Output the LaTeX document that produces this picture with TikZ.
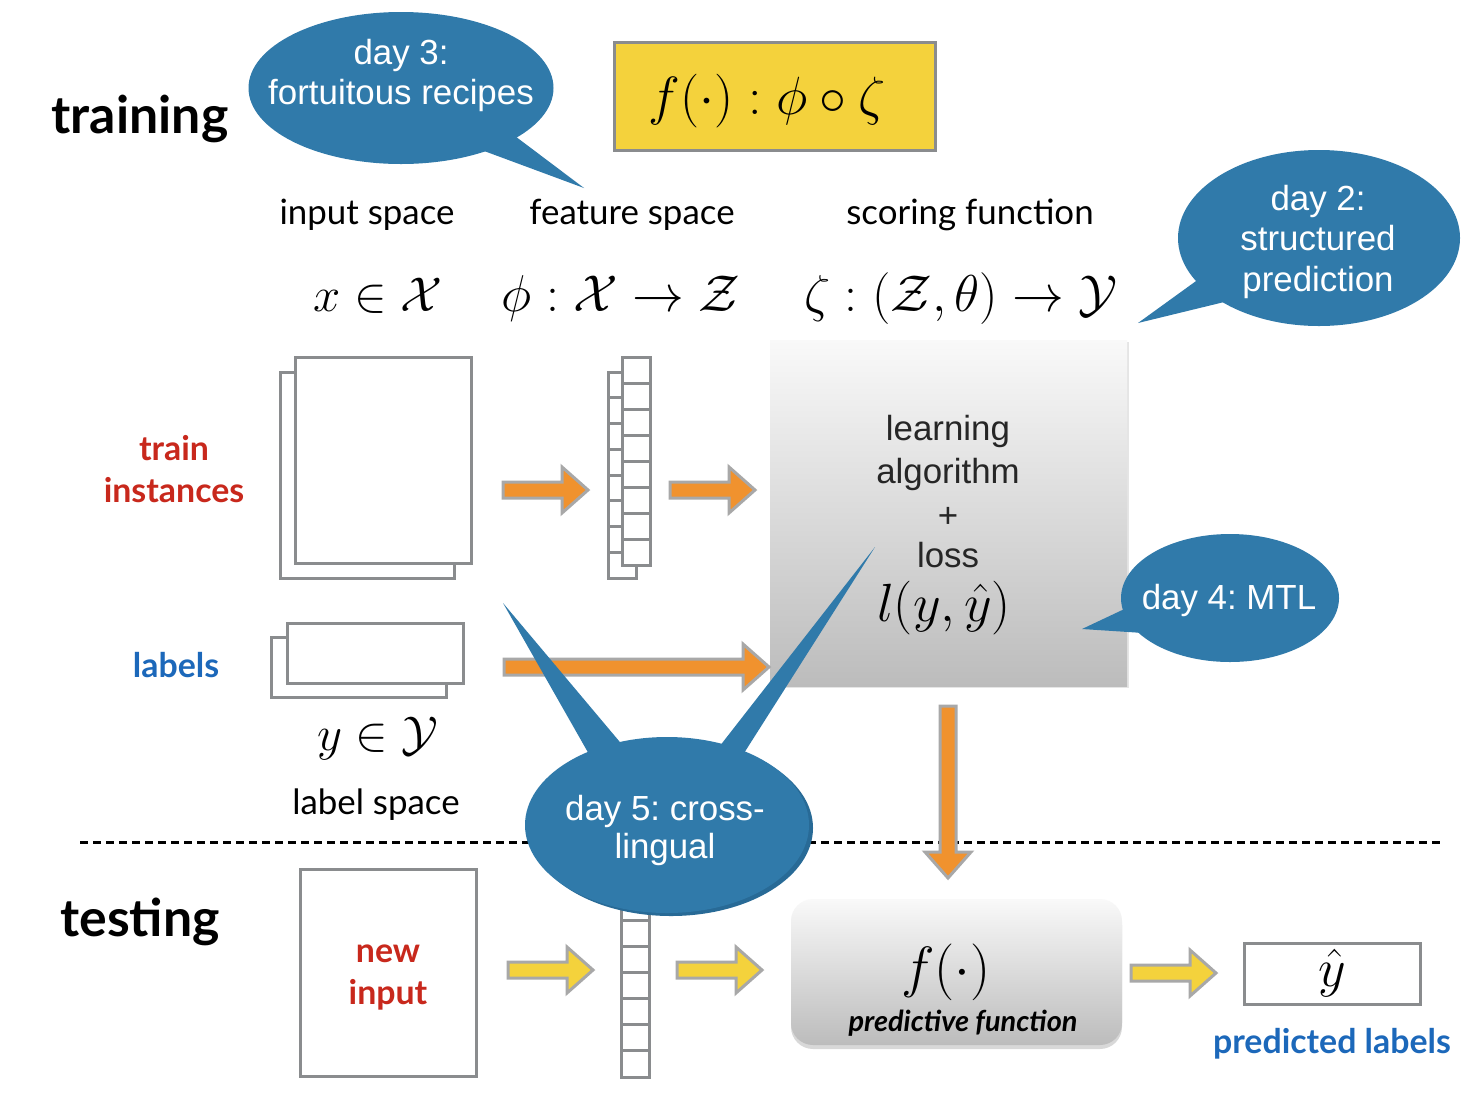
\RequirePackage{fix-cm}
\documentclass[tikz,border=0pt]{standalone}
\usepackage[no-math]{fontspec}
\setmainfont{Lato}
\newfontfamily\helv{Liberation Sans}
\usetikzlibrary{shapes.geometric,shadows,calc}
\frenchspacing

\definecolor{bub}{RGB}{48,122,170}
\definecolor{bubdark}{RGB}{40,106,150}
\definecolor{org}{RGB}{240,146,46}
\definecolor{ylw}{RGB}{244,210,60}
\definecolor{gline}{RGB}{138,140,142}
\definecolor{aline}{RGB}{168,168,168}
\definecolor{redt}{RGB}{200,40,28}
\definecolor{bluet}{RGB}{28,104,186}
\definecolor{boxtop}{RGB}{249,249,249}
\definecolor{boxbot}{RGB}{188,188,188}

\newcommand\fsz[1]{\fontsize{#1}{#1}\selectfont}

\newcommand\harr[3]{\filldraw[fat, fill=#1] let \p1=(#2), \p2=(#3) in
  (\x1,\y1+8bp) -- (\x2-26bp,\y1+8bp) -- (\x2-26bp,\y1+23bp) -- (\x2,\y1)
  -- (\x2-26bp,\y1-23bp) -- (\x2-26bp,\y1-8bp) -- (\x1,\y1-8bp) -- cycle;}
\newcommand\varr[3]{\filldraw[fat, fill=#1] let \p1=(#2), \p2=(#3) in
  (\x1-8bp,\y1) -- (\x1-8bp,\y2+26bp) -- (\x1-23bp,\y2+26bp) -- (\x1,\y2)
  -- (\x1+23bp,\y2+26bp) -- (\x1+8bp,\y2+26bp) -- (\x1+8bp,\y1) -- cycle;}

\begin{document}
\begin{tikzpicture}[x=1bp,y=-1bp,
  frame/.style={draw=gline, line width=3bp, fill=white, inner sep=0pt, rectangle},
  cell/.style={draw=gline, line width=3bp},
  fat/.style={draw=aline, line width=3bp, line join=miter},
  bubble/.style={ellipse, fill=bub, inner sep=0pt},
  btext/.style={text=white, font=\helv\fsz{35}, anchor=base, inner sep=0pt},
  head/.style={font=\bfseries\fsz{52}, anchor=base, inner sep=0pt},
  lbl/.style={font=\fsz{35}, anchor=base, inner sep=0pt},
  redl/.style={font=\bfseries\fsz{34}, text=redt, anchor=base, inner sep=0pt},
  bluel/.style={font=\bfseries\fsz{34}, text=bluet, anchor=base, inner sep=0pt},
  mth/.style={font=\fsz{52}, anchor=base, inner sep=0pt},
  ltxt/.style={font=\helv\fsz{35}, text=black!85, anchor=base, inner sep=0pt},
  dline/.style={line width=3bp, dash pattern=on 8bp off 5bp}
]
\fill[white] (0,0) rectangle (1474,1104);
\useasboundingbox (0,0) rectangle (1474,1104);

% dashed separator
\coordinate (dl) at (80,842);
\coordinate (dr) at (1440,842);
\draw[dline] (dl) -- (dr);

% headings
\node[head] (tr) at (140,133) {training};
\node[head] (te) at (140,936) {testing};
\node[lbl] (h1) at (367,224) {input space};
\node[lbl] (h2) at (632,224) {feature space};
\node[lbl] (h3) at (970,224) {scoring function};
\node[mth, font=\fsz{49}] (m1) at (378,311) {$x\in\mathcal{X}$};
\node[mth] (m2) at (621,311) {$\phi:\mathcal{X}\to\mathcal{Z}$};
\node[mth] (m3) at (961,311) {$\zeta:(\mathcal{Z},\theta)\to\mathcal{Y}$};
\node[redl] (ti1) at (174,460) {train};
\node[redl] (ti2) at (174,502) {instances};
\node[bluel] (lb) at (176,677) {labels};
\node[mth, font=\fsz{49}] (m4) at (378,750) {$y\in\mathcal{Y}$};
\node[lbl] (ls) at (376,814) {label space};

% formula box
\node[draw=gline, line width=3bp, fill=ylw, inner sep=0pt, minimum width=321bp, minimum height=108bp] (fbox) at (774.5,96) {};
\node[mth, font=\fsz{54}] (fform) at (767,114) {$f(\cdot) : \phi\circ\zeta$};

% training documents
\node[frame, minimum width=174bp, minimum height=206bp] (docB) at (367,475) {};
\node[frame, minimum width=176bp, minimum height=206bp] (docF) at (383,460) {};
% feature columns
\node[frame, minimum width=28bp, minimum height=206bp] (fvB) at (622,475) {};
\foreach \i in {1,...,7} \draw[cell] (608,372+\i*25.75) -- (636,372+\i*25.75);
\node[frame, minimum width=28bp, minimum height=208bp] (fvF) at (636,461) {};
\foreach \i in {1,...,7} \draw[cell] (622,357+\i*26) -- (650,357+\i*26);
% label documents
\node[frame, minimum width=175bp, minimum height=60bp] (labB) at (358.5,667) {};
\node[frame, minimum width=176bp, minimum height=60bp] (labF) at (375,653) {};

% learning box
\node[inner sep=0pt, minimum width=357bp, minimum height=346bp, top color=boxtop, bottom color=boxbot,
      drop shadow={shadow xshift=2bp, shadow yshift=-2bp, opacity=0.2}] (learn) at (948.5,513) {};
\node[ltxt] (l1) at (948,440) {learning};
\node[ltxt] (l2) at (948,483) {algorithm};
\node[ltxt] (l3) at (948,527) {+};
\node[ltxt] (l4) at (948,567) {loss};
\node[mth, font=\fsz{54}] (l5) at (944,621) {$l(y,\hat{y})$};

% testing
\node[frame, minimum width=176bp, minimum height=207bp] (newin) at (388,972.5) {};
\node[redl] (n1) at (388,962) {new};
\node[redl] (n2) at (388,1004) {input};
\node[frame, minimum width=28bp, minimum height=209bp] (ftest) at (635,972.5) {};
\foreach \i in {1,...,7} \draw[cell] (621,868+\i*26.1) -- (649,868+\i*26.1);

\node[inner sep=0pt, rounded corners=22bp, minimum width=331bp, minimum height=146bp, top color=boxtop, bottom color=boxbot,
      drop shadow={shadow xshift=0bp, shadow yshift=-4bp, opacity=0.3}] (pred) at (956.5,972) {};
\node[mth, font=\fsz{57}] (pf) at (946,986) {$f(\cdot)$};
\node[font=\bfseries\itshape\fsz{29}, anchor=base, inner sep=0pt] (pft) at (963,1031) {predictive function};

\node[frame, minimum width=176bp, minimum height=61bp, font=\fsz{54}] (yh) at (1332,973.5) {$\hat{y}$};
\node[bluel] (pl) at (1332,1053) {predicted labels};

% arrows
\coordinate (a1s) at (503,490);  \coordinate (a1e) at (588,490);
\coordinate (a2s) at (670,490);  \coordinate (a2e) at (755,490);
\coordinate (a3s) at (504,667);  \coordinate (a3e) at (769,667);
\coordinate (avs) at (948,706);  \coordinate (ave) at (948,878);
\coordinate (b1s) at (508,970);  \coordinate (b1e) at (593,970);
\coordinate (b2s) at (677,970);  \coordinate (b2e) at (762,970);
\coordinate (b3s) at (1131,973); \coordinate (b3e) at (1216,973);
\harr{org}{a1s}{a1e}
\harr{org}{a2s}{a2e}
\harr{org}{a3s}{a3e}
\varr{org}{avs}{ave}
\harr{ylw}{b1s}{b1e}
\harr{ylw}{b2s}{b2e}
\harr{ylw}{b3s}{b3e}

% bubbles
\node[bubble, minimum width=305bp, minimum height=152bp] (d3) at (401,88) {};
\coordinate (d3tip) at (584,188);
\fill[bub] (449,138) -- (495,121) -- (d3tip) -- cycle;
\node[btext] (d3a) at (401,64) {day 3:};
\node[btext] (d3b) at (401,104) {fortuitous recipes};

\node[bubble, minimum width=282bp, minimum height=176bp] (d2) at (1319,238) {};
\coordinate (d2tip) at (1138,323);
\fill[bub] (1221,263) -- (1253,295) -- (d2tip) -- cycle;
\node[btext] (d2a) at (1318,210) {day 2:};
\node[btext] (d2b) at (1318,250) {structured};
\node[btext] (d2c) at (1318,291) {prediction};

\node[bubble, minimum width=218bp, minimum height=128bp] (d4) at (1230,598) {};
\coordinate (d4tip) at (1082,629);
\fill[bub] (1135,604) -- (1159,634) -- (d4tip) -- cycle;
\node[btext] (d4a) at (1229,609) {day 4: MTL};

\node[ellipse, fill=bubdark, inner sep=0pt, minimum width=284bp, minimum height=176bp] (d5s) at (671,828) {};
\node[bubble, minimum width=284bp, minimum height=176bp] (d5) at (667,825) {};
\coordinate (d5tipL) at (503,603);
\coordinate (d5tipR) at (875,547);
\fill[bub] (598,770) -- (635,760) -- (d5tipL) -- cycle;
\fill[bub] (705,765) -- (732,772) -- (d5tipR) -- cycle;
\node[btext] (d5a) at (665,820) {day 5: cross-};
\node[btext] (d5b) at (665,858) {lingual};
\end{tikzpicture}
\end{document}
